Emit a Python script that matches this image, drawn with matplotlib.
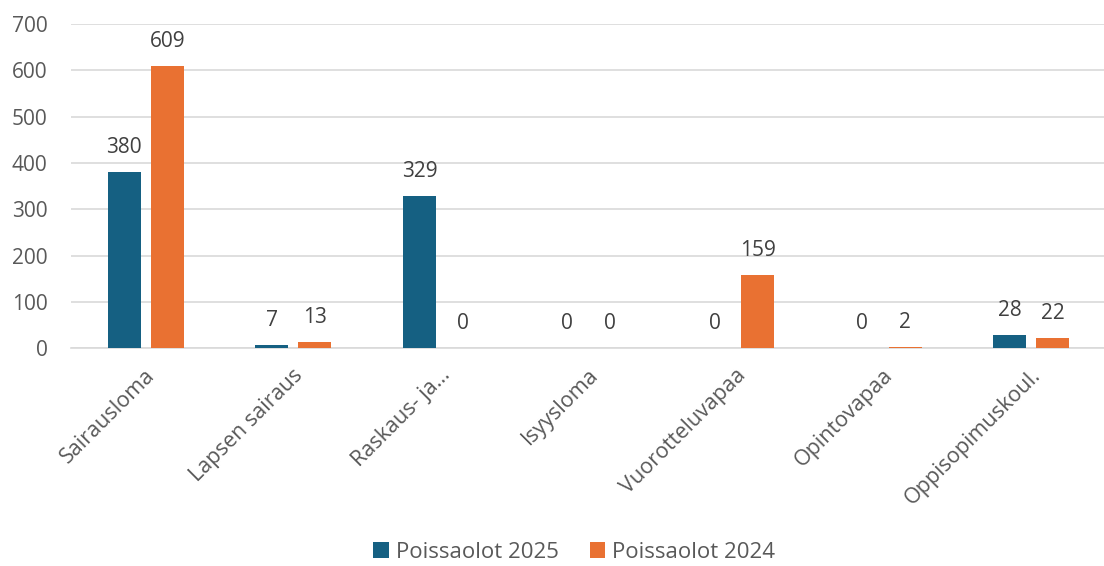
import matplotlib.pyplot as plt
import numpy as np

plt.rcParams['font.family'] = ['Open Sans', 'DejaVu Sans']

categories = ['Sairausloma', 'Lapsen sairaus', 'Raskaus- ja…', 'Isyysloma',
              'Vuorotteluvapaa', 'Opintovapaa', 'Oppisopimuskoul.']
poissaolot_2025 = [380, 7, 329, 0, 0, 0, 28]
poissaolot_2024 = [609, 13, 0, 0, 159, 2, 22]

blue = '#156082'
orange = '#E97132'
text_gray = '#595959'

fig = plt.figure(figsize=(11.04, 5.66), dpi=100)
ax = fig.add_axes([0.0643, 0.385, 0.9357, 0.5724])

x = np.arange(len(categories))
w = 0.224
gap = 0.068
b1 = ax.bar(x - (w + gap) / 2 + 0.007, poissaolot_2025, w, color=blue, label='Poissaolot 2025', zorder=3)
b2 = ax.bar(x + (w + gap) / 2 + 0.007, poissaolot_2024, w, color=orange, label='Poissaolot 2024', zorder=3)

# arvot palkkien paalle
for bars in (b1, b2):
    for rect in bars:
        h = rect.get_height()
        ax.annotate(str(int(h)), (rect.get_x() + rect.get_width() / 2, h),
                    xytext=(0, 10), textcoords='offset points', ha='center', va='bottom',
                    fontsize=15, color='#404040')

ax.set_xlim(-0.5, len(categories) - 0.5)
ax.set_ylim(0, 700)
ax.set_yticks(range(0, 701, 100))
ax.yaxis.grid(True, color='#d9d9d9', linewidth=1.2, zorder=0)
ax.set_axisbelow(True)
for s in ['top', 'right', 'left']:
    ax.spines[s].set_visible(False)
ax.spines['bottom'].set_color('#d9d9d9')
ax.spines['bottom'].set_linewidth(1.2)
ax.set_xticks(x)
ax.set_xticklabels(categories, rotation=45, ha='right', rotation_mode='anchor')
ax.tick_params(axis='y', length=0, labelsize=15, colors=text_gray, pad=17)
ax.tick_params(axis='x', length=0, labelsize=15.5, colors=text_gray, pad=12)

fig.legend(loc='lower center', bbox_to_anchor=(0.52, -0.03), ncol=2, frameon=False,
           fontsize=16, labelcolor=text_gray, handlelength=0.7, handleheight=0.7,
           handletextpad=0.3, columnspacing=1.4)

plt.savefig('out.png')
